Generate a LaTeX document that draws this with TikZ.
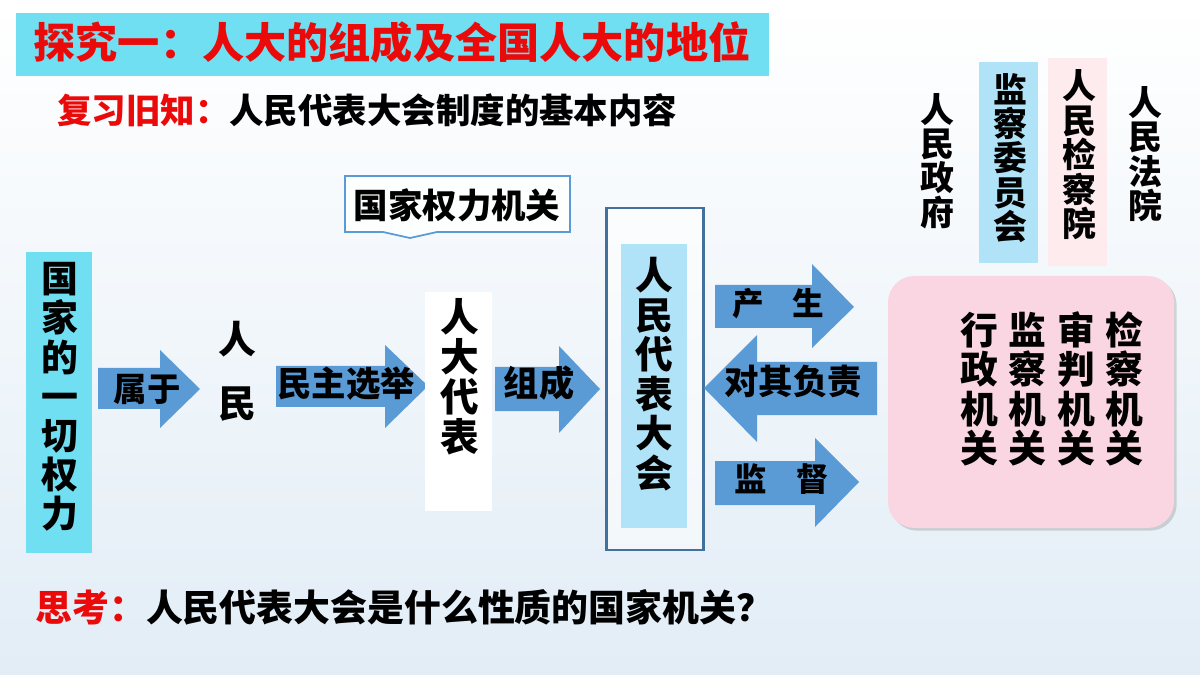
\documentclass[tikz,border=0pt]{standalone}
\usepackage{fontspec}
\setmainfont{Noto Sans CJK SC}
\usetikzlibrary{shadows}

\begin{document}
\begin{tikzpicture}[
    x=0.02cm, y=-0.02cm,
    font=\bfseries,
    flowtext/.style={
        font=\fontsize{19.6}{19.6}\selectfont\bfseries,
        inner sep=0pt
    },
    vtext/.style={
        font=\fontsize{21.5}{22.4}\selectfont\bfseries,
        align=center,
        inner sep=0pt
    },
    toptext/.style={
        font=\fontsize{19.3}{19.6}\selectfont\bfseries,
        align=center,
        inner sep=0pt
    },
    blockarrow/.style={
        fill=arrowcol
    }
]

% ---------------------------------
% Colors
% ---------------------------------
\definecolor{arrowcol}{RGB}{91,155,213}
\definecolor{titlecol}{RGB}{112,223,242}
\definecolor{npccol}{RGB}{176,227,247}
\definecolor{framecol}{RGB}{65,113,156}
\definecolor{pinkcol}{RGB}{249,214,226}
\definecolor{palepink}{RGB}{253,235,238}
\definecolor{skymid}{RGB}{216,230,242}
\definecolor{skylow}{RGB}{226,237,246}
\definecolor{hotred}{RGB}{235,10,10}

% ---------------------------------
% Background
% ---------------------------------
\shade[top color=white, middle color=skymid, bottom color=skylow]
    (0,0) rectangle (1200,675);
\useasboundingbox (0,0) rectangle (1200,675);

% ---------------------------------
% Title and heading lines
% ---------------------------------
\fill[titlecol] (16,13) rectangle (769,76);
\node[font=\fontsize{24}{24}\selectfont\bfseries, text=hotred] (title) at (392,42)
    {探究一：人大的组成及全国人大的地位};

\node[flowtext, anchor=west] (review) at (57,110)
    {{\color{hotred}复习旧知：}人民代表大会制度的基本内容};

\node[font=\fontsize{21}{21}\selectfont\bfseries, anchor=west, inner sep=0pt] (think) at (35,607)
    {{\color{hotred}思考：}人民代表大会是什么性质的国家机关？};

% ---------------------------------
% Left: power flow
% ---------------------------------
\fill[titlecol] (26,252) rectangle (92,553);
\node[vtext, font=\fontsize{21}{22.3}\selectfont\bfseries] (power) at (60,397)
    {国\\家\\的\\一\\切\\权\\力};

\fill[blockarrow] (98,368) -- (160,368) -- (160,350) -- (200,389)
    -- (160,428) -- (160,409) -- (98,409) -- cycle;
\node[flowtext, font=\fontsize{19}{19}\selectfont\bfseries] (belong) at (147,389) {属于};

\node[vtext, font=\fontsize{21.5}{36.3}\selectfont\bfseries] (people) at (237,371)
    {人\\民};

\fill[blockarrow] (276,366) -- (385,366) -- (385,345) -- (428,386)
    -- (385,428) -- (385,407) -- (276,407) -- cycle;
\node[flowtext] (elect) at (346,384) {民主选举};

\fill[white] (425,292) rectangle (492,511);
\node[vtext, font=\fontsize{22}{22.7}\selectfont\bfseries] (deputies) at (460,377)
    {人\\大\\代\\表};

% callout above the deputies
\draw[arrowcol, line width=1pt, fill=white, fill opacity=0.85]
    (345,176) -- (570,176) -- (570,232) -- (437,232) -- (410,238)
    -- (383,232) -- (345,232) -- cycle;
\node[flowtext] (organ) at (457,205) {国家权力机关};

\fill[blockarrow] (495,367) -- (559,367) -- (559,346) -- (600,389)
    -- (559,433) -- (559,411) -- (495,411) -- cycle;
\node[flowtext, font=\fontsize{20}{20}\selectfont\bfseries] (compose) at (539,383) {组成};

% ---------------------------------
% Middle: people's congress
% ---------------------------------
\draw[framecol, line width=1.7pt, fill=white, fill opacity=0.5] (606,208) rectangle (703,550);
\fill[npccol] (621,244) rectangle (687,528);
\node[vtext, font=\fontsize{21.5}{22.5}\selectfont\bfseries] (npc) at (654,374)
    {人\\民\\代\\表\\大\\会};

\fill[blockarrow] (715,285) -- (812,285) -- (812,264) -- (854,307)
    -- (812,348) -- (812,328) -- (715,328) -- cycle;
\node[flowtext, font=\fontsize{18}{18}\selectfont\bfseries] (produce) at (778,304)
    {产\hspace{0.9em}生};

\fill[blockarrow] (877,362) -- (757,362) -- (757,335) -- (704,388)
    -- (757,442) -- (757,415) -- (877,415) -- cycle;
\node[flowtext] (answer) at (793,382) {对其负责};

\fill[blockarrow] (715,461) -- (815,461) -- (815,438) -- (859,482)
    -- (815,527) -- (815,505) -- (715,505) -- cycle;
\node[flowtext, font=\fontsize{18.5}{18.5}\selectfont\bfseries] (supervise) at (782,479)
    {监\hspace{0.9em}督};

% ---------------------------------
% Right: state organs
% ---------------------------------
\fill[npccol] (979,62) rectangle (1038,263);
\fill[palepink] (1048,58) rectangle (1107,266);

\node[toptext] (govt) at (937,161) {人\\民\\政\\府};
\node[toptext] (commission) at (1010,158) {监\\察\\委\\员\\会};
\node[toptext] (procur) at (1079,155) {人\\民\\检\\察\\院};
\node[toptext] (court) at (1145,154) {人\\民\\法\\院};

\fill[pinkcol, rounded corners=15pt, drop shadow={opacity=0.3, shadow xshift=1.5pt, shadow yshift=-1.5pt}]
    (888,276) rectangle (1174,528);

\node[vtext] (admin) at (979,389) {行\\政\\机\\关};
\node[vtext] (superv) at (1027,389) {监\\察\\机\\关};
\node[vtext] (judic) at (1076,389) {审\\判\\机\\关};
\node[vtext] (procor) at (1124,389) {检\\察\\机\\关};

\end{tikzpicture}
\end{document}
